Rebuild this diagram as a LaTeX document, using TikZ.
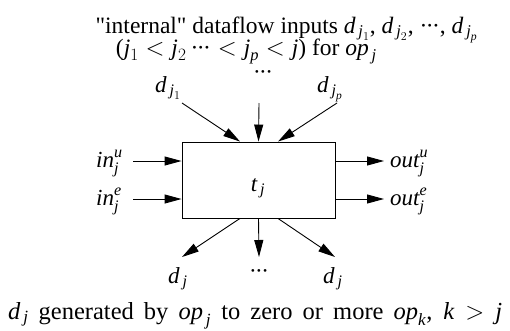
\documentclass[tikz,border=0pt]{standalone}
\usepackage{amsmath}
\usepackage{fontspec}
\setmainfont{Liberation Serif}
\newfontfamily\plainfont{Liberation Serif}
\usetikzlibrary{arrows.meta}
\newcommand\V[1]{\textit{#1}}
\newcommand\sbs[1]{_{\,#1}}
\newcommand\dts{\text{\plainfont\char"00B7\kern-1.5pt\char"00B7\kern-1.5pt\char"00B7}}
\begin{document}
\begin{tikzpicture}[x=1pt,y=-1pt,
  every node/.style={font=\fontsize{23}{25}\selectfont, inner sep=0pt},
  lbl/.style={anchor=base west},
  arr/.style={-{Triangle[length=17pt,width=9pt]}, line width=0.9pt},
  box/.style={draw, line width=0.9pt, minimum width=153pt, minimum height=76pt}]
\useasboundingbox (0,0) rectangle (510,330);
\node[anchor=base east, font=\fontsize{23.5}{25}\selectfont] (title1) at (478,33) {{\plainfont"}internal{\plainfont"} dataflow inputs $\V{d}\sbs{\V{j}_1}$, $\V{d}\sbs{\V{j}_2}$, $\dts$, $\V{d}\sbs{\V{j}_{\V{p}}}$};
\node[anchor=base east, font=\fontsize{23.5}{25}\selectfont] (title2) at (377,55) {($\V{j}_1 < \V{j}_2 \,\dts < \V{j}_{\V{p}} < \V{j}$) for $\V{op}\sbs{\V{j}}$};
\node[box] (t) at (258.5,180) {};
\node[anchor=base] (tl) at (258,191) {$\V{t}\sbs{\V{j}}$};
% top inputs
\node[lbl] (d1) at (155,92) {$\V{d}\sbs{\V{j}_1}$};
\node (dd) at (263,75) {$\dts$};
\node[lbl] (dp) at (317,92) {$\V{d}\sbs{\V{j}_{\V{p}}}$};
\coordinate (a1) at (182,103);
\coordinate (a2) at (259,103);
\coordinate (a3) at (337,103);
\draw[arr] (a1) -- (t.north west -| 240,0);
\draw[arr] (a2) -- (t.north);
\draw[arr] (a3) -- (t.north west -| 278,0);
% left inputs
\node[lbl] (inu) at (96,167) {$\V{in}^{\V{u}}_{\V{j}}$};
\node[lbl] (ine) at (96,205) {$\V{in}^{\V{e}}_{\V{j}}$};
\coordinate (iu) at (133,161);
\coordinate (ie) at (133,199);
\draw[arr] (iu) -- (iu -| t.west);
\draw[arr] (ie) -- (ie -| t.west);
% right outputs
\node[lbl] (outu) at (390,167) {$\V{out}^{\V{u}}_{\V{j}}$};
\node[lbl] (oute) at (390,205) {$\V{out}^{\V{e}}_{\V{j}}$};
\coordinate (ou) at (384,161);
\coordinate (oe) at (384,199);
\draw[arr] (ou -| t.east) -- (ou);
\draw[arr] (oe -| t.east) -- (oe);
% bottom outputs
\coordinate (b1) at (182,257);
\coordinate (b2) at (259,257);
\coordinate (b3) at (335,257);
\draw[arr] (t.south west -| 240,0) -- (b1);
\draw[arr] (t.south) -- (b2);
\draw[arr] (t.south west -| 278,0) -- (b3);
\node[lbl] (o1) at (168,283) {$\V{d}\sbs{\V{j}}$};
\node (o2) at (259,274) {$\dts$};
\node[lbl] (o3) at (323,283) {$\V{d}\sbs{\V{j}}$};
\node[lbl, font=\fontsize{24.5}{26}\selectfont] (cap) at (8,319) {\thickmuskip=8mu\medmuskip=4mu\makebox[494pt][s]{$\V{d}\sbs{\V{j}}$ generated by $\V{op}\sbs{\V{j}}$ to zero or more $\V{op}_{\V{k}}$, $\V{k} > \V{j}$}};
\end{tikzpicture}
\end{document}
